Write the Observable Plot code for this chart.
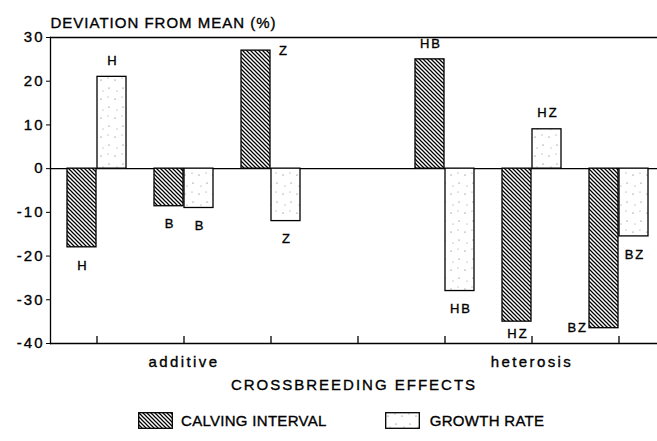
<!DOCTYPE html>
<html><head><meta charset="utf-8">
<script src="https://cdn.jsdelivr.net/npm/d3@7"></script>
<script src="https://cdn.jsdelivr.net/npm/@observablehq/plot@0.6"></script>
<style>
html,body{margin:0;padding:0;background:#fff;}
body{font-family:"Liberation Sans",Arial,sans-serif;color:#000;width:657px;}
#chart svg text{stroke:#000;stroke-width:0.35px;letter-spacing:2px;}
#legend{display:flex;align-items:center;height:41px;padding-left:138px;font-size:15px;-webkit-text-stroke:0.35px #000;letter-spacing:0.3px;}
#legend .sw{display:inline-block;margin-right:8px;}
#legend .item{display:flex;align-items:center;}
</style></head><body>
<svg width="0" height="0" style="position:absolute"><defs>
<pattern id="hatch" patternUnits="userSpaceOnUse" width="4" height="4">
<rect width="4" height="4" fill="#fff"/>
<path d="M-1,-1L5,5M-1,3L1,5M3,-1L5,1" stroke="#000" stroke-width="1.25"/>
</pattern>
<pattern id="dots" patternUnits="userSpaceOnUse" width="14" height="19">
<rect width="14" height="19" fill="#fff"/>
<circle cx="3" cy="4" r="0.55" fill="#555"/>
<circle cx="10" cy="2" r="0.5" fill="#777"/>
<circle cx="11" cy="12" r="0.55" fill="#555"/>
<circle cx="5" cy="15" r="0.5" fill="#777"/>
</pattern>
</defs></svg>
<div id="chart"></div>
<div id="legend"></div>
<script>
// ---- data ----
const slots = ["H", "B", "Z", "gap", "HB", "HZ", "BZ"];
const calving = [-18, -8.6, 27, null, 25, -35, -36.5];
const growth = [21, -9, -12, null, -28, 9, -15.5];
const calvingLabels = ["H", "B", "Z", "", "HB", "HZ", "BZ"];
const growthLabels = ["H", "B", "Z", "", "HB", "HZ", "BZ"];
const calvingPlace = ["below", "below", "right", "", "above", "belowNear", "left"];
const growthPlace = ["above", "below", "below", "", "below", "above", "below"];
const groupLabels = ["additive", "heterosis"];
const groupSlots = ["B", "HZ"];
const yTicks = [-40, -30, -20, -10, 0, 10, 20, 30];
const yTitle = "DEVIATION FROM MEAN (%)";
const xTitle = "CROSSBREEDING EFFECTS";
const seriesNames = ["CALVING INTERVAL", "GROWTH RATE"];

const calvingData = slots.map((s, i) => ({slot: s, value: calving[i], label: calvingLabels[i], place: calvingPlace[i]})).filter(d => d.value != null);
const growthData = slots.map((s, i) => ({slot: s, value: growth[i], label: growthLabels[i], place: growthPlace[i]})).filter(d => d.value != null);

const lbl = {fontSize: 13, fontFamily: "Liberation Sans, Arial, sans-serif", fill: "#000"};
function labelMarks(data, side) {
  const c = side === "calving" ? -15 : 15;
  return [
    Plot.text(data.filter(d => d.place === "above"), {x: "slot", y: "value", text: "label", dx: c + 1, dy: -16, ...lbl}),
    Plot.text(data.filter(d => d.place === "below"), {x: "slot", y: "value", text: "label", dx: c + 1, dy: 18, ...lbl}),
    Plot.text(data.filter(d => d.place === "belowNear"), {x: "slot", y: "value", text: "label", dx: c + 1, dy: 12, ...lbl}),
    Plot.text(data.filter(d => d.place === "right"), {x: "slot", y: "value", text: "label", dx: 8, dy: 0, textAnchor: "start", ...lbl}),
    Plot.text(data.filter(d => d.place === "left"), {x: "slot", y: "value", text: "label", dx: -31, dy: 0, textAnchor: "end", ...lbl})
  ];
}

const chart = Plot.plot({
  width: 657,
  height: 400,
  marginTop: 37,
  marginBottom: 57,
  marginLeft: 50,
  marginRight: 0,
  style: {fontFamily: "Liberation Sans, Arial, sans-serif", color: "#000", background: "#fff"},
  x: {type: "band", domain: slots, range: [50, 665], padding: 0, axis: null},
  y: {domain: [-40, 30], axis: null},
  marks: [
    Plot.frame({anchor: "left", stroke: "#000", strokeWidth: 1.3}),
    Plot.ruleY([30, -40, 0], {stroke: "#000", strokeWidth: 1.3}),
    Plot.axisY({ticks: yTicks, tickFormat: d => String(d), tickSize: 4, tickPadding: 2, fontSize: 15, label: null, stroke: "#000"}),
    Plot.ruleX(slots, {x: d => d, y1: -40, y2: -38.4, stroke: "#000", strokeWidth: 1.3}),
    Plot.barY(calvingData, {x: "slot", y: "value", fill: "url(#hatch)", stroke: "#000", strokeWidth: 1.3, insetLeft: 14, insetRight: 44}),
    Plot.barY(growthData, {x: "slot", y: "value", fill: "url(#dots)", stroke: "#000", strokeWidth: 1.3, insetLeft: 44, insetRight: 14}),
    ...labelMarks(calvingData, "calving"),
    ...labelMarks(growthData, "growth"),
    Plot.text([yTitle], {frameAnchor: "top-left", textAnchor: "start", dy: -20, fontSize: 15, fill: "#000"}),
    Plot.text(groupLabels, {x: (d, i) => groupSlots[i], frameAnchor: "bottom", dy: 23, fontSize: 15, fill: "#000"}),
    Plot.text([xTitle], {frameAnchor: "bottom", dy: 46, fontSize: 15, fill: "#000"})
  ]
});
document.getElementById("chart").appendChild(chart);

// per-text letter spacing tweaks
d3.select(chart).selectAll("text").each(function() {
  const t = this.textContent;
  if (t === yTitle) this.style.letterSpacing = "1px";
  else if (groupLabels.includes(t)) this.style.letterSpacing = "2.4px";
});

// legend
const legend = document.getElementById("legend");
const fills = ["url(#hatch)", "url(#dots)"];
seriesNames.forEach((name, i) => {
  const item = document.createElement("div");
  item.className = "item";
  if (i > 0) item.style.marginLeft = "58px";
  item.innerHTML = `<svg class="sw" width="35" height="17"><rect x="0.7" y="0.7" width="33.6" height="15.6" fill="${fills[i]}" stroke="#000" stroke-width="1.3"/></svg><span>${name}</span>`;
  if (i > 0) item.querySelector("svg").style.marginRight = "10px";
  legend.appendChild(item);
});
</script>
</body></html>
